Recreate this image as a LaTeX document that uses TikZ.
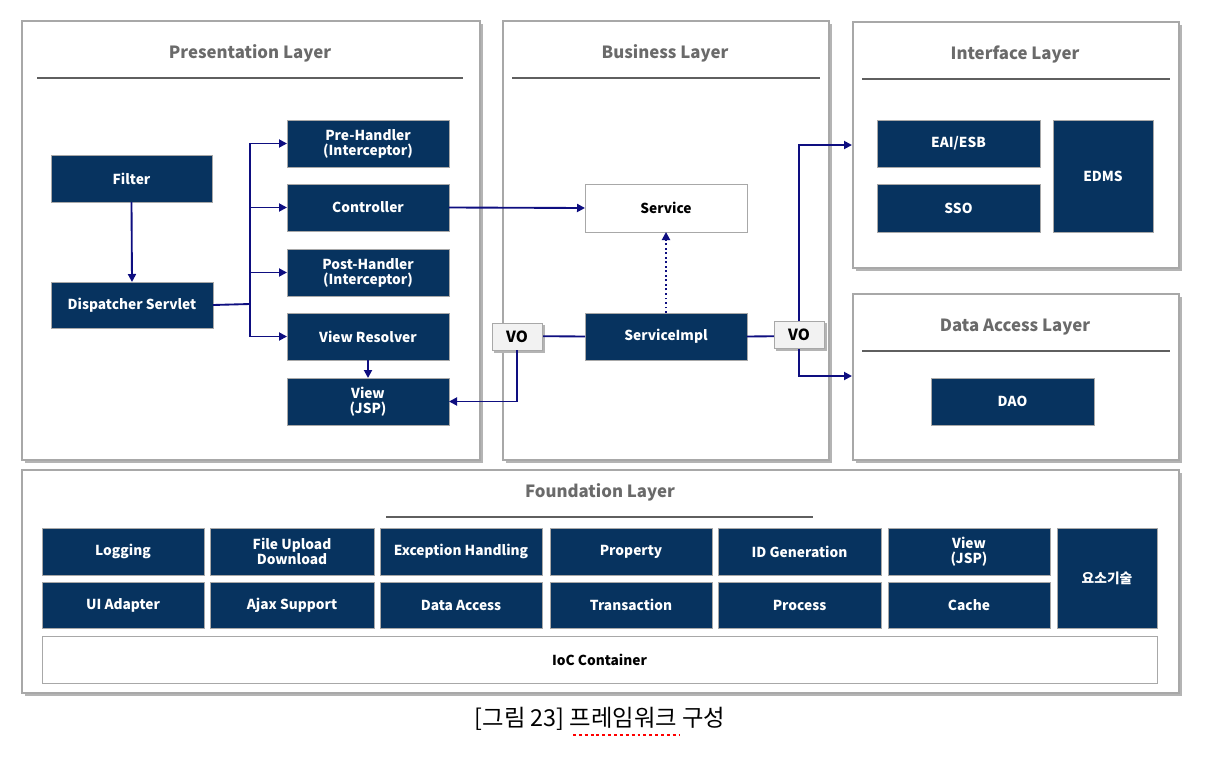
\documentclass[tikz,border=0pt]{standalone}
\usepackage{fontspec}
\setmainfont{Noto Sans CJK KR}
\usetikzlibrary{arrows.meta}
\definecolor{navy}{HTML}{07335F}
\definecolor{arrowc}{HTML}{0E0E80}
\definecolor{titlec}{HTML}{6A6A6A}
\definecolor{layerb}{HTML}{A8A8A8}
\definecolor{shadowc}{HTML}{B4B4B4}
\newcommand\pbox[7]{\node[#6, minimum width={(#4-#2)*0.75pt}, minimum height={(#5-#3)*0.75pt}] (#1) at ({(#2+#4)/2},{(#3+#5)/2}) {#7};}
\newcommand\layer[5]{%
  \fill[shadowc] (#2+3,#3+3) rectangle (#4+3,#5+3);
  \node[layerbox, minimum width={(#4-#2)*0.75pt}, minimum height={(#5-#3)*0.75pt}] (#1) at ({(#2+#4)/2},{(#3+#5)/2}) {};}
\begin{document}
\begin{tikzpicture}[x=0.75pt,y=-0.75pt,
  darkbox/.style={draw=layerb, line width=0.6pt, fill=navy, text=white, font=\bfseries\fontsize{10.3}{11.3}\selectfont, align=center, inner sep=0pt, outer sep=0pt},
  whitebox/.style={draw=layerb, line width=0.6pt, fill=white, text=black, font=\bfseries\fontsize{10.3}{11.3}\selectfont, align=center, inner sep=0pt, outer sep=0pt},
  vobox/.style={draw=layerb, line width=0.6pt, fill=white!95!black, text=black, font=\bfseries\fontsize{11.5}{12}\selectfont, inner sep=0pt, outer sep=0pt},
  layerbox/.style={draw=layerb, line width=0.8pt, fill=white, inner sep=0pt, outer sep=0pt},
  ltitle/.style={text=titlec, font=\bfseries\fontsize{12.6}{13.6}\selectfont, inner sep=0pt},
  tline/.style={draw=titlec!90!black, line width=1.2pt},
  conn/.style={draw=arrowc, line width=1.4pt},
  arr/.style={conn, -{Triangle[length=6pt,width=6pt]}},
]
\useasboundingbox (0,0) rectangle (1216,778);
\fill[white] (0,0) rectangle (1216,778);

% layer boxes
\layer{pres}{22}{21}{480}{460}
\layer{bus}{503}{21}{829}{460}
\layer{intf}{853}{22}{1179}{268}
\layer{dal}{853}{294}{1179}{460}
\layer{found}{22}{470}{1179}{693}

% titles
\node[ltitle] (tpres) at (250,53) {Presentation Layer};
\draw[tline] (37,78) -- (463,78);
\node[ltitle] (tbus) at (665,53) {Business Layer};
\draw[tline] (512,78) -- (820,78);
\node[ltitle] (tintf) at (1015,55) {Interface Layer};
\draw[tline] (862,79) -- (1170,79);
\node[ltitle] (tdal) at (1015,327) {Data Access Layer};
\draw[tline] (862,351) -- (1170,351);
\node[ltitle] (tfound) at (600,492) {Foundation Layer};
\draw[tline] (386,517) -- (813,517);

% presentation
\pbox{filter}{51}{155}{212}{202}{darkbox}{Filter}
\pbox{disp}{51}{282}{213}{328}{darkbox}{Dispatcher Servlet}
\pbox{preh}{287}{120}{449}{167}{darkbox}{Pre-Handler\\(Interceptor)}
\pbox{ctrl}{287}{184}{449}{231}{darkbox}{Controller}
\pbox{posth}{287}{249}{449}{296}{darkbox}{Post-Handler\\(Interceptor)}
\pbox{vres}{287}{313}{449}{360}{darkbox}{View Resolver}
\pbox{view}{287}{378}{449}{425}{darkbox}{View\\(JSP)}

% business
\pbox{svc}{585}{184}{747}{232}{whitebox}{Service}
\pbox{simpl}{585}{313}{747}{360}{darkbox}{ServiceImpl}

% interface
\pbox{eai}{877}{120}{1040}{167}{darkbox}{EAI/ESB}
\pbox{sso}{877}{184}{1040}{232}{darkbox}{SSO}
\pbox{edms}{1053}{120}{1153}{232}{darkbox}{EDMS}

% data access
\pbox{dao}{931}{378}{1094}{425}{darkbox}{DAO}

% foundation
\pbox{flog}{42}{528}{204}{575}{darkbox}{Logging}
\pbox{ffile}{210}{528}{374}{575}{darkbox}{File Upload\\Download}
\pbox{fexc}{380}{528}{542}{575}{darkbox}{Exception Handling}
\pbox{fprop}{550}{528}{712}{575}{darkbox}{Property}
\pbox{fid}{718}{528}{881}{575}{darkbox}{ID Generation}
\pbox{fview}{888}{528}{1050}{575}{darkbox}{View\\(JSP)}
\pbox{fui}{42}{582}{204}{628}{darkbox}{UI Adapter}
\pbox{fajax}{210}{582}{374}{628}{darkbox}{Ajax Support}
\pbox{fdata}{380}{582}{542}{628}{darkbox}{Data Access}
\pbox{ftx}{550}{582}{712}{628}{darkbox}{Transaction}
\pbox{fproc}{718}{582}{881}{628}{darkbox}{Process}
\pbox{fcache}{888}{582}{1050}{628}{darkbox}{Cache}
\pbox{felem}{1057}{528}{1157}{628}{darkbox}{요소기술}
\pbox{ioc}{42}{636}{1157}{683}{whitebox}{IoC Container}

% connectors
\coordinate (br) at (250,304);
\coordinate (ifin) at (852,145);
\coordinate (dain) at (852,376);
\draw[arr] (filter.south) -- (disp.north);
\draw[conn] (disp.east) -- (br);
\draw[arr] (br) |- (preh.west);
\draw[arr] (br) |- (ctrl.west);
\draw[arr] (br) |- (posth.west);
\draw[arr] (br) |- (vres.west);
\draw[arr] (vres.south) -- (view.north);
\draw[arr] (ctrl.east) -- (svc.west);
\draw[arr, dotted, line width=1.4pt] (simpl.north) -- (svc.south);

% VO boxes (shadows then boxes)
\fill[shadowc] (494,325) rectangle (545,353);
\fill[shadowc] (776,323) rectangle (827,351);
\draw[conn] (simpl.west) -- (517,336);
\draw[conn] (simpl.east) -- (799,336);
\draw[arr] (799,336) |- (ifin);
\draw[arr] (799,336) |- (dain);
\pbox{vo1}{492}{323}{542}{350}{vobox}{VO}
\pbox{vo2}{774}{321}{824}{348}{vobox}{VO}
\draw[arr] (vo1.south) |- (view.east);

% caption
\node[inner sep=0pt, font=\fontsize{17.5}{19}\selectfont] (cap) at (600,719) {[그림 23] 프레임워크 구성};
\draw[red, line width=1.8pt, dash pattern=on 2.2pt off 2.2pt] (573,735) -- (680,735);
\end{tikzpicture}
\end{document}
